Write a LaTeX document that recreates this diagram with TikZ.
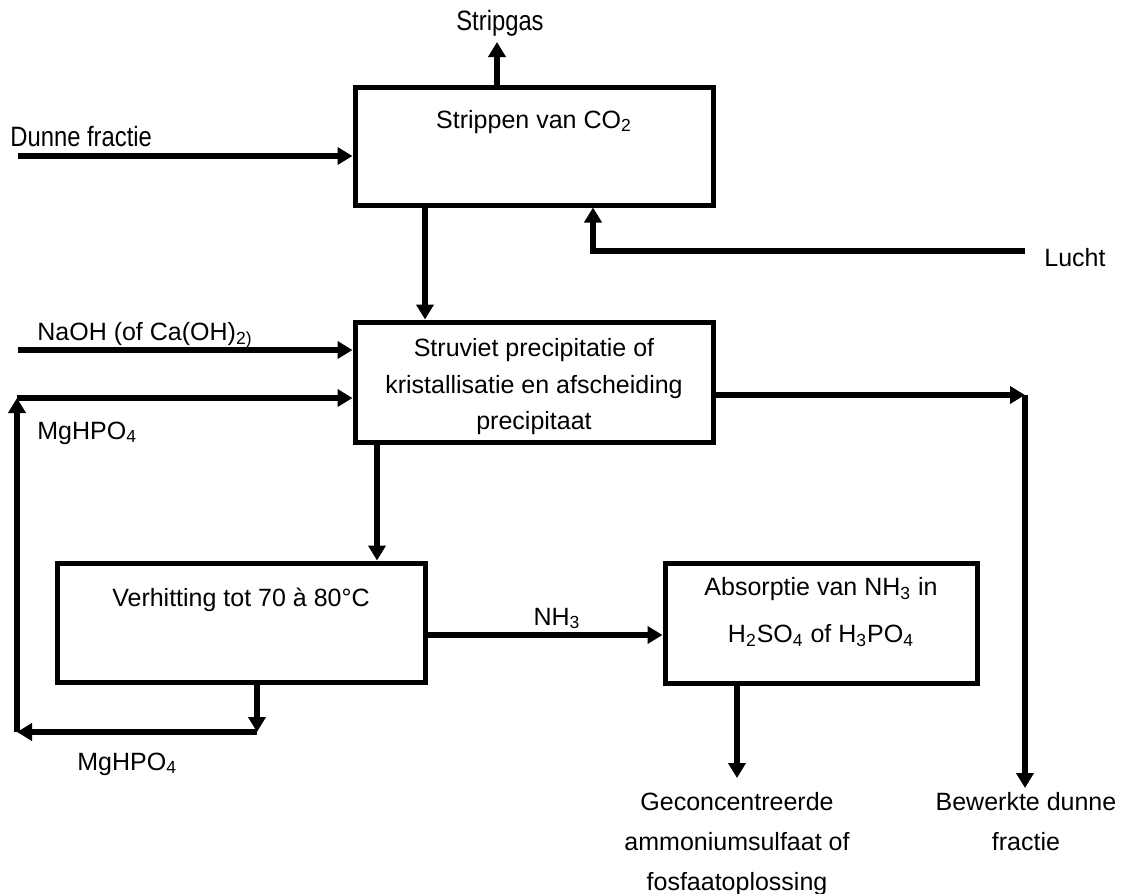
\documentclass[tikz,border=0pt]{standalone}
\usepackage{fontspec}
\setmainfont{Liberation Sans}
\newfontfamily\narrowfont[FakeStretch=0.85]{Liberation Sans}
\usetikzlibrary{arrows.meta}
\begin{document}
\begin{tikzpicture}[x=0.5pt,y=-0.5pt,
  box/.style={draw,line width=2.5pt,inner sep=0pt},
  flow/.style={line width=2.85pt,-{Triangle[length=7.5pt,width=8.5pt]}},
  lbl/.style={inner sep=0pt,font=\fontsize{12.5pt}{15pt}\selectfont},
  narrowlbl/.style={inner sep=0pt,font=\fontsize{14pt}{17pt}\narrowfont}]
\useasboundingbox (0,0) rectangle (1125,894);

% process units
\node[box,minimum width=179pt,minimum height=59pt] (strip) at (534,146) {};
\node[box,minimum width=179pt,minimum height=60pt] (struv) at (534,382) {};
\node[box,minimum width=184pt,minimum height=59.5pt] (verh) at (241,622.5) {};
\node[box,minimum width=156pt,minimum height=60pt] (abs) at (821,623) {};

% unit texts
\node[lbl,anchor=base] (tstrip) at (534,128) {Strippen van CO\textsubscript{2}};
\node[lbl,anchor=north,align=center,font=\fontsize{12.5pt}{18.25pt}\selectfont] (tstruv) at (534,338)
  {Struviet precipitatie of\\kristallisatie en afscheiding\\precipitaat};
\node[lbl,anchor=base] (tverh) at (241,606) {Verhitting tot 70 à 80°C};
\node[lbl,anchor=north,align=center,font=\fontsize{12.5pt}{23.5pt}\selectfont] (tabs) at (821,577)
  {Absorptie van NH\textsubscript{3} in\\H\textsubscript{2}SO\textsubscript{4} of H\textsubscript{3}PO\textsubscript{4}};

% stream labels
\node[narrowlbl,anchor=base] (gas) at (500,31) {Stripgas};
\node[narrowlbl,anchor=base west] (dunne) at (10,146) {Dunne fractie};
\node[lbl,anchor=base west] (lucht) at (1044,266) {Lucht};
\node[lbl,anchor=base west] (naoh) at (37,340) {NaOH (of Ca(OH)\textsubscript{2)}};
\node[lbl,anchor=base west] (mg1) at (37,439) {MgHPO\textsubscript{4}};
\node[lbl,anchor=base west] (mg2) at (77,770) {MgHPO\textsubscript{4}};
\node[lbl,anchor=base] (nh3) at (557,625) {NH\textsubscript{3}};
\node[lbl,anchor=north,align=center,font=\fontsize{12.5pt}{20pt}\selectfont] (conc) at (737,792)
  {Geconcentreerde\\ammoniumsulfaat of\\fosfaatoplossing};
\node[lbl,anchor=north,align=center,font=\fontsize{12.5pt}{20pt}\selectfont] (bew) at (1026,792)
  {Bewerkte dunne\\fractie};

% stream end points and bends
\coordinate (gasTop) at (497,42);
\coordinate (dIn) at (18,156);
\coordinate (xA) at (425,0);
\coordinate (lIn) at (1025,251);
\coordinate (xL) at (593,0);
\coordinate (nIn) at (18,350);
\coordinate (rTop) at (17,398);
\coordinate (rBot) at (17,732);
\coordinate (rDrop) at (257,732);
\coordinate (xB) at (377,0);
\coordinate (yN) at (0,635);
\coordinate (pOut) at (737,778);
\coordinate (eCorner) at (1025,395);
\coordinate (eOut) at (1025,788);

% streams
\draw[flow] (gasTop |- strip.north) -- (gasTop);
\draw[flow] (dIn) -- (dIn -| strip.west);
\draw[flow] (xA |- strip.south) -- (xA |- struv.north);
\draw[flow] (lIn) -| (xL |- strip.south);
\draw[flow] (nIn) -- (nIn -| struv.west);
\draw[flow] (rBot) -- (rTop);
\draw[flow] (rTop) -- (rTop -| struv.west);
\draw[flow] (xB |- struv.south) -- (xB |- verh.north);
\draw[flow] (rDrop |- verh.south) -- (rDrop);
\draw[flow] (rDrop) -- (rBot);
\draw[flow] (verh.east |- yN) -- (abs.west |- yN);
\draw[flow] (pOut |- abs.south) -- (pOut);
\draw[flow] (struv.east |- eCorner) -- (eCorner);
\draw[flow] (eCorner) -- (eOut);
\end{tikzpicture}
\end{document}
